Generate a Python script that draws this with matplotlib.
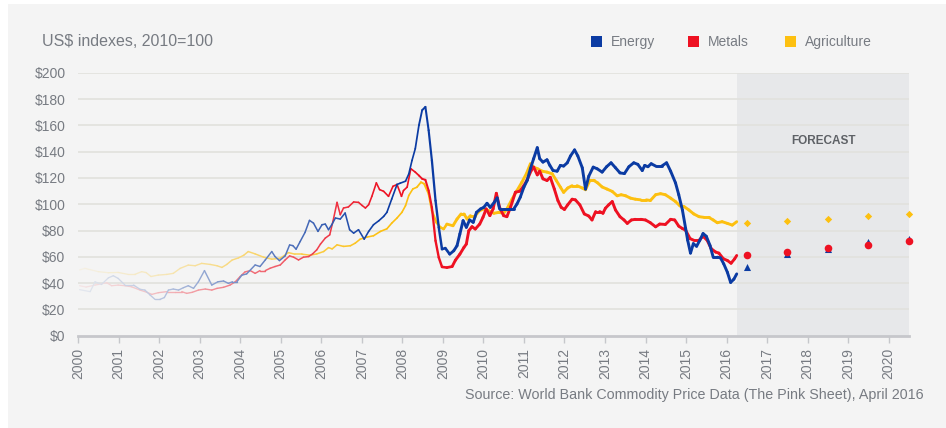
import numpy as np
import matplotlib
matplotlib.use("Agg")
import matplotlib.pyplot as plt
from matplotlib.collections import LineCollection
from matplotlib.patches import Rectangle
from matplotlib.colors import to_rgb

# monthly-ish index readings, 2010=100
energy_t = [2000.04, 2000.30, 2000.42, 2000.58, 2000.75, 2000.87, 2000.99, 2001.16, 2001.37, 2001.53,
            2001.65, 2001.78, 2001.90, 2002.02, 2002.13, 2002.23, 2002.35, 2002.48, 2002.60, 2002.72,
            2002.85, 2002.97, 2003.12, 2003.30, 2003.45, 2003.59, 2003.71, 2003.81, 2003.92, 2004.04,
            2004.16, 2004.37, 2004.49, 2004.62, 2004.78, 2004.86, 2004.97, 2005.11, 2005.22, 2005.30,
            2005.38, 2005.48, 2005.60, 2005.71, 2005.81, 2005.92, 2006.02, 2006.10, 2006.18, 2006.26,
            2006.35, 2006.47, 2006.59, 2006.70, 2006.80, 2006.92, 2007.06, 2007.17, 2007.29, 2007.42,
            2007.54, 2007.62, 2007.74, 2007.87, 2007.95, 2008.08, 2008.16, 2008.24, 2008.32, 2008.41,
            2008.49, 2008.57, 2008.65, 2008.73, 2008.82, 2008.90, 2008.98, 2009.06, 2009.17, 2009.27,
            2009.35, 2009.42, 2009.50, 2009.58, 2009.66, 2009.75, 2009.83, 2009.93, 2010.01, 2010.09,
            2010.17, 2010.27, 2010.34, 2010.40, 2010.50, 2010.62, 2010.75, 2010.83, 2010.91, 2011.00,
            2011.08, 2011.16, 2011.24, 2011.33, 2011.39, 2011.47, 2011.57, 2011.64, 2011.72, 2011.82,
            2011.90, 2011.98, 2012.07, 2012.15, 2012.25, 2012.33, 2012.44, 2012.52, 2012.60, 2012.71,
            2012.81, 2012.93, 2013.04, 2013.15, 2013.26, 2013.37, 2013.48, 2013.59, 2013.71, 2013.81,
            2013.92, 2013.98, 2014.06, 2014.14, 2014.25, 2014.40, 2014.52, 2014.62, 2014.74, 2014.82,
            2014.91, 2014.99, 2015.04, 2015.11, 2015.18, 2015.26, 2015.34, 2015.42, 2015.50, 2015.59,
            2015.67, 2015.77, 2015.85, 2015.93, 2016.02, 2016.10, 2016.18, 2016.25]
energy_v = [35, 33.5, 41, 39, 44, 45.6, 43.6, 38.5, 38.5, 35.3,
            34.7, 30.9, 27.6, 27.6, 29, 34.7, 35.5, 34.7, 36.5, 38,
            36, 41, 49.5, 38.5, 41, 41.6, 39.8, 41, 41, 46,
            47, 53.8, 52.6, 57.6, 64, 60.2, 57.1, 60.7, 69, 68.5,
            65.8, 71.6, 78.5, 87.7, 85.6, 79.3, 84.4, 84.9, 80.6, 84.4,
            89.5, 88.7, 93.3, 80.6, 78, 80.6, 73.4, 79.3, 84.4, 87.4,
            90.7, 93.8, 104, 115, 116, 117.5, 123, 133.3, 142.2, 160,
            171.5, 174, 156.2, 133.3, 102.7, 82.4, 65.8, 66.6, 62, 64.6,
            68.4, 77.3, 87.5, 82.4, 88, 86.2, 93.8, 96.4, 97.6, 100.7,
            97.6, 101.5, 104.8, 96.4, 96.4, 96.4, 96.4, 100.2, 105.3, 113,
            118, 127, 134.6, 143, 134.6, 132, 133.8, 129.5, 125.6, 125.1,
            129.5, 129, 131.5, 136.7, 141.3, 136.7, 127.7, 111.5, 121.3, 128.2,
            126.9, 124.4, 128.5, 131.5, 127.7, 123.8, 123.3, 128.5, 131.5, 130.3,
            125.6, 129.5, 128.5, 130.8, 129, 129, 131.5, 125.1, 116.2, 107.2,
            95.6, 81.5, 72.6, 62.8, 70, 68, 72.6, 77.7, 75.6, 68.7,
            59.7, 59.7, 59.2, 54.6, 48.2, 40.5, 43, 47]

metals_t = [2000.04, 2000.20, 2000.42, 2000.71, 2000.83, 2000.99, 2001.16, 2001.32, 2001.53, 2001.70,
            2001.82, 2001.98, 2002.19, 2002.39, 2002.56, 2002.68, 2002.82, 2002.97, 2003.14, 2003.30,
            2003.43, 2003.59, 2003.75, 2003.88, 2004.00, 2004.12, 2004.25, 2004.37, 2004.49, 2004.62,
            2004.74, 2004.86, 2004.99, 2005.11, 2005.22, 2005.32, 2005.44, 2005.56, 2005.69, 2005.79,
            2005.89, 2005.98, 2006.10, 2006.21, 2006.29, 2006.39, 2006.47, 2006.55, 2006.67, 2006.80,
            2006.92, 2007.01, 2007.09, 2007.17, 2007.25, 2007.36, 2007.44, 2007.54, 2007.66, 2007.77,
            2007.87, 2007.98, 2008.03, 2008.12, 2008.21, 2008.32, 2008.41, 2008.49, 2008.57, 2008.65,
            2008.73, 2008.82, 2008.90, 2008.98, 2009.10, 2009.23, 2009.31, 2009.42, 2009.52, 2009.58,
            2009.64, 2009.72, 2009.80, 2009.91, 2009.99, 2010.07, 2010.16, 2010.24, 2010.32, 2010.40,
            2010.50, 2010.58, 2010.67, 2010.79, 2010.90, 2011.00, 2011.08, 2011.18, 2011.24, 2011.33,
            2011.39, 2011.47, 2011.57, 2011.65, 2011.75, 2011.84, 2011.92, 2012.00, 2012.08, 2012.19,
            2012.27, 2012.38, 2012.49, 2012.60, 2012.68, 2012.77, 2012.87, 2012.95, 2013.01, 2013.09,
            2013.18, 2013.26, 2013.37, 2013.47, 2013.55, 2013.65, 2013.75, 2013.88, 2014.00, 2014.12,
            2014.25, 2014.35, 2014.49, 2014.62, 2014.72, 2014.82, 2014.91, 2014.99, 2015.10, 2015.19,
            2015.32, 2015.42, 2015.52, 2015.62, 2015.73, 2015.81, 2015.92, 2016.02, 2016.11, 2016.20,
            2016.25]
metals_v = [38, 37, 38.5, 40.3, 38, 38.5, 38, 37.2, 34.7, 33,
            31.4, 32.7, 33.5, 33.5, 33.5, 32.2, 33, 34.7, 35.5, 34.7,
            36, 36.8, 38.5, 41, 45, 48.5, 49.5, 47.4, 49.5, 49.5,
            51.3, 52.6, 53.8, 57.6, 60.7, 59.7, 57.6, 59.7, 60.2, 62.3,
            65.3, 69.6, 74.2, 76.7, 87, 101.4, 92, 97.1, 97.9, 101.7,
            101.4, 99, 97.1, 99.6, 106, 116.2, 111.1, 109.8, 106, 113.6,
            115, 106, 110.4, 113, 127, 124.4, 121.8, 119.3, 118.5, 110.4,
            97.6, 72.2, 59.5, 52.3, 51.8, 52.6, 57.4, 62, 67.1, 69.7,
            79.8, 82.9, 81.1, 84.9, 90, 96.4, 91.3, 96.4, 108.3, 97.6,
            91.3, 90.5, 97.6, 109.1, 109.9, 114.2, 118.5, 125.6, 128.2, 122.3,
            125.1, 119.3, 118, 120.5, 111.6, 102.7, 97.6, 96, 99.5, 103.8,
            103.3, 99.5, 92.6, 91, 88, 94.4, 94.4, 93.1, 96.9, 99.5,
            102, 95.6, 90.5, 88, 85.4, 88, 88.5, 88.5, 88, 85.9,
            82.8, 84.9, 84.6, 88.5, 88, 83.3, 81.5, 80.2, 73.8, 72.6,
            72.6, 75.6, 72.6, 66.2, 63.6, 62.8, 58.5, 57.2, 55.1, 58.5,
            61]

agri_t = [2000.04, 2000.17, 2000.50, 2000.75, 2000.99, 2001.24, 2001.40, 2001.57, 2001.68, 2001.80,
          2001.98, 2002.19, 2002.35, 2002.52, 2002.72, 2002.89, 2003.05, 2003.26, 2003.43, 2003.55,
          2003.67, 2003.80, 2003.96, 2004.09, 2004.20, 2004.37, 2004.58, 2004.78, 2004.99, 2005.19,
          2005.35, 2005.52, 2005.73, 2005.89, 2006.06, 2006.18, 2006.27, 2006.39, 2006.55, 2006.72,
          2006.84, 2006.96, 2007.13, 2007.29, 2007.46, 2007.62, 2007.74, 2007.87, 2007.99, 2008.08,
          2008.16, 2008.26, 2008.36, 2008.46, 2008.54, 2008.65, 2008.73, 2008.84, 2008.94, 2009.02,
          2009.10, 2009.25, 2009.35, 2009.45, 2009.52, 2009.60, 2009.68, 2009.80, 2009.91, 2010.01,
          2010.13, 2010.26, 2010.38, 2010.50, 2010.58, 2010.71, 2010.83, 2010.95, 2011.06, 2011.16,
          2011.24, 2011.34, 2011.45, 2011.57, 2011.70, 2011.80, 2011.90, 2011.98, 2012.08, 2012.19,
          2012.31, 2012.44, 2012.52, 2012.63, 2012.72, 2012.82, 2012.93, 2013.05, 2013.18, 2013.30,
          2013.40, 2013.51, 2013.63, 2013.75, 2013.88, 2014.02, 2014.12, 2014.25, 2014.37, 2014.49,
          2014.62, 2014.74, 2014.85, 2014.95, 2015.07, 2015.19, 2015.32, 2015.44, 2015.56, 2015.67,
          2015.77, 2015.89, 2016.02, 2016.14, 2016.25]
agri_v = [50, 51.2, 48.7, 47.9, 48.1, 46.6, 46.6, 48.7, 48, 45,
          46.1, 46.6, 47.4, 51.2, 53.7, 53.2, 55, 54.2, 53.2, 51.9,
          54.2, 57.5, 59.2, 61.2, 64, 62.2, 59.7, 58.2, 58.9, 63.2,
          62, 62, 61.2, 62.2, 64, 67, 66, 69.1, 67.9, 68.4,
          70.4, 73.4, 75, 76, 79.3, 81.3, 85.6, 89.5, 93.8, 98.9,
          106.6, 111.6, 112.9, 116.7, 115.5, 107.8, 95.1, 86.2, 82.4, 81.1,
          84.9, 83.6, 88.7, 92.6, 92.6, 88.7, 91.3, 91.3, 95.1, 96.4,
          95.1, 93.1, 93.8, 93.1, 96.4, 104, 110.4, 116.7, 123.1, 130.7,
          128.2, 126.9, 125.1, 124.4, 123.1, 118, 113, 109, 112.3, 114.1,
          114.1, 112.3, 111, 118.2, 118.2, 116.2, 113.1, 111.5, 109.7, 106.4,
          107.2, 106.4, 104.6, 103.8, 103.3, 103.3, 102.8, 107.2, 108, 107.2,
          104.6, 102, 98.7, 98.2, 95.6, 92.6, 90.5, 90, 90, 88,
          85.9, 86.7, 85.4, 84.1, 86.7]

# annual forecasts
fc_years = [2016.5, 2017.5, 2018.5, 2019.5, 2020.5]
energy_fc = [52, 62, 66, 71, 73.5]
metals_fc = [61.5, 64, 66.5, 69, 72]
agri_fc = [86, 87.5, 88.5, 91, 92.5]

year_ticks = list(range(2000, 2021))
y_ticks = list(range(0, 201, 20))
forecast_start = 2016.25

BLUE = "#0b3ba3"
RED = "#ee1122"
YELLOW = "#fdc010"
BG = "#f4f4f4"
TXT = "#777b82"

plt.rcParams["font.family"] = ["Liberation Sans", "DejaVu Sans"]

W, H = 946, 428
fig = plt.figure(figsize=(W / 100, H / 100), dpi=100, facecolor="white")
fig.add_artist(Rectangle((8 / W, 0), 1, 1 - 4 / H, transform=fig.transFigure,
                         facecolor=BG, edgecolor="none", zorder=-10))

ax = fig.add_axes([78 / W, 92.3 / H, (909 - 78) / W, (355.3 - 92.3) / H])
ax.set_facecolor(BG)
ax.set_xlim(2000, 2020.5)
ax.set_ylim(0, 200)

ax.axvspan(forecast_start, 2020.5, color="#e7e8ea", zorder=0, lw=0)
ax.text(2018.4, 148, "FORECAST", ha="center", va="center", fontsize=8.5,
        fontweight="bold", color="#5e6166")

for v in y_ticks[1:]:
    ax.axhline(v, color="#e1e1dd", lw=1.2, zorder=1)


def faded_line(t, v, color):
    t = np.asarray(t, dtype=float)
    v = np.asarray(v, dtype=float)
    pts = np.column_stack([t, v]).reshape(-1, 1, 2)
    segs = np.concatenate([pts[:-1], pts[1:]], axis=1)
    mid = (t[:-1] + t[1:]) / 2
    # older years fade into the background and run thinner
    alpha = np.interp(mid, [2000, 2002, 2004, 2006, 2007.5], [0.06, 0.25, 0.55, 0.8, 1.0])
    lw = np.interp(mid, [2000, 2008.3, 2009.3], [0.9, 1.2, 2.1])
    rgb = np.array(to_rgb(color))
    bg = np.array(to_rgb(BG))
    cols = [tuple(bg + (rgb - bg) * a) for a in alpha]
    lc = LineCollection(segs, colors=cols, linewidths=lw, capstyle="round",
                        joinstyle="round", zorder=3)
    ax.add_collection(lc)


faded_line(agri_t, agri_v, YELLOW)
faded_line(metals_t, metals_v, RED)
faded_line(energy_t, energy_v, BLUE)

ax.scatter(fc_years, agri_fc, marker="D", s=14, color=YELLOW, zorder=4, clip_on=False, lw=0)
ax.scatter(fc_years, energy_fc, marker="^", s=26, color=BLUE, zorder=4, clip_on=False, lw=0)
ax.scatter(fc_years, metals_fc, marker="o", s=30, color=RED, zorder=5, clip_on=False, lw=0)

for s in ["top", "right", "left"]:
    ax.spines[s].set_visible(False)
ax.spines["bottom"].set_color("#c6c7cb")
ax.spines["bottom"].set_linewidth(2)
ax.spines["bottom"].set_zorder(6)

ax.set_xticks(year_ticks)
ax.set_xticklabels([str(y) for y in year_ticks], rotation=90, fontsize=10, color=TXT)
ax.tick_params(axis="x", length=5, width=1, color="#c6c7cb", pad=4)
ax.set_yticks(y_ticks)
ax.set_yticklabels(["${}".format(v) for v in y_ticks], fontsize=10, color=TXT)
ax.tick_params(axis="y", length=0, pad=9)

fig.text(42 / W, 1 - 42 / H, "US$ indexes, 2010=100", fontsize=11.5, color=TXT, va="center")

legend_items = [("Energy", BLUE, 591), ("Metals", RED, 688), ("Agriculture", YELLOW, 785)]
for name, col, x0 in legend_items:
    fig.add_artist(Rectangle((x0 / W, 1 - 47 / H), 11 / W, 11 / H,
                             transform=fig.transFigure, facecolor=col, edgecolor="none"))
    fig.text((x0 + 20) / W, 1 - 42 / H, name, fontsize=10, color=TXT, va="center")

fig.text(924 / W, 1 - 395 / H,
         "Source: World Bank Commodity Price Data (The Pink Sheet), April 2016",
         ha="right", va="center", fontsize=10.3, color=TXT)

fig.savefig("out.png", dpi=100, facecolor=fig.get_facecolor())
